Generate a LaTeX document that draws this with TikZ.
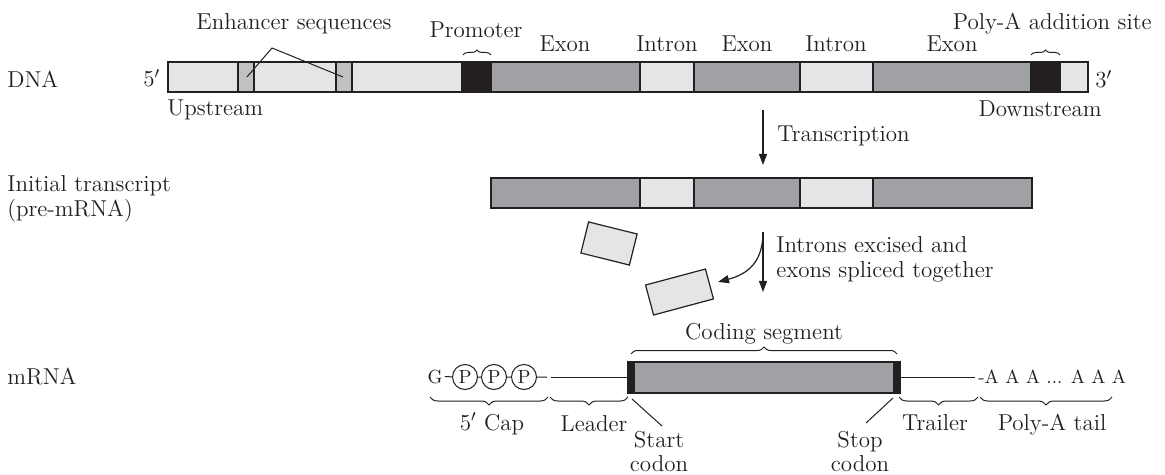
\documentclass[tikz,border=0pt]{standalone}
\usepackage{tikz}
\usepackage{xcolor}
\usetikzlibrary{decorations.pathreplacing, arrows.meta, calc, positioning}

\definecolor{intron}{HTML}{E4E5E7}
\definecolor{enhancer}{HTML}{C0C1C3}
\definecolor{exon}{HTML}{A0A1A4}
\definecolor{ink}{HTML}{231F20}

\tikzset{
    lbl/.style={inner sep=0pt, text=ink, font=\fontsize{11.5}{12.5}\selectfont},
    small/.style={inner sep=0pt, text=ink, font=\fontsize{9.5}{11}\selectfont},
    seg/.style={draw=ink, line width=0.7pt},
    thin/.style={draw=ink, line width=0.5pt},
    brc/.style={decorate, decoration={brace, amplitude=#1}, draw=ink, line width=0.5pt},
    arr/.style={draw=ink, line width=0.6pt, -{Triangle[length=5.5pt, width=4pt]}},
    pcirc/.style={circle, draw=ink, line width=0.5pt, inner sep=0pt, minimum size=12.5pt, small},
    cut/.style={rectangle, draw=ink, fill=intron, line width=0.6pt, inner sep=0pt}
}

\begin{document}
\begin{tikzpicture}[x=0.5pt, y=-0.5pt]
                        \useasboundingbox (0,0) rectangle (1165,475);

                        % DNA
                        \foreach \a/\b/\c in {168/238/intron, 238/254/enhancer, 254/336/intron, 336/352/enhancer,
                                352/462/intron, 462/491/ink, 491/640/exon, 640/694/intron, 694/800/exon,
                                800/873/intron, 873/1031/exon, 1031/1060/ink, 1060/1088/intron}
                            \filldraw[seg, fill=\c] (\a, 62) rectangle (\b, 92);

                        \node[lbl, anchor=base west] (dna) at (7, 88) {DNA};
                        \node[lbl, anchor=base west] (five) at (143, 87) {5$'$};
                        \node[lbl, anchor=base west] (three) at (1095, 88) {3$'$};
                        \node[lbl, anchor=base west] (up) at (167, 116) {Upstream};
                        \node[lbl, anchor=base east] (down) at (1102, 117) {Downstream};
                        \node[lbl, anchor=base] (enh) at (294, 30) {Enhancer sequences};
                        \node[lbl, anchor=base] (prom) at (476, 38) {Promoter};
                        \node[lbl, anchor=base east] (polya) at (1152, 30) {Poly-A addition site};
                        \node[lbl, anchor=base] (ex1) at (565, 52) {Exon};
                        \node[lbl, anchor=base] (in1) at (667, 52) {Intron};
                        \node[lbl, anchor=base] (ex2) at (747, 52) {Exon};
                        \node[lbl, anchor=base] (in2) at (836, 52) {Intron};
                        \node[lbl, anchor=base] (ex3) at (952, 52) {Exon};

                        \coordinate (enhtip) at (272, 48);
                        \coordinate (enh1) at (247, 77);
                        \coordinate (enh2) at (343, 77);
                        \draw[thin] (enh1) -- (enhtip) -- (enh2);

                        \draw[brc=2.5pt] (463, 55) -- (491, 55);
                        \draw[brc=2.5pt] (1031, 55) -- (1060, 55);

                        % transcription
                        \coordinate (tr1) at (763, 110);
                        \coordinate (tr2) at (763, 165);
                        \draw[arr] (tr1) -- (tr2);
                        \node[lbl, anchor=base west] (trans) at (777, 142) {Transcription};

                        % pre-mRNA
                        \foreach \a/\b/\c in {491/640/exon, 640/694/intron, 694/800/exon, 800/873/intron, 873/1032/exon}
                            \filldraw[seg, fill=\c] (\a, 178) rectangle (\b, 208);
                        \node[lbl, anchor=north west, align=left] (pre) at (7, 175) {Initial transcript\\(pre-mRNA)};

                        % splicing
                        \node[cut, minimum width=25pt, minimum height=16pt, rotate=-14] (cut1) at (609, 243.5) {};
                        \node[cut, minimum width=31pt, minimum height=15.5pt, rotate=15] (cut2) at (679.5, 292) {};
                        \coordinate (sp1) at (763, 232);
                        \coordinate (sp2) at (763, 292);
                        \coordinate (sp3) at (718, 282);
                        \draw[arr] (sp1) -- (sp2);
                        \draw[arr] (sp1) .. controls (763, 262) and (748, 274) .. (sp3);
                        \node[lbl, anchor=north west, align=left] (splice) at (776, 236) {Introns excised and\\exons spliced together};

                        % mRNA
                        \node[lbl, anchor=base west] (mrna) at (7, 384) {mRNA};
                        \filldraw[seg, fill=exon] (628, 362) rectangle (900, 393);
                        \fill[ink] (628, 362) rectangle (635, 393);
                        \fill[ink] (893, 362) rectangle (900, 393);
                        \node[small, anchor=base, inner sep=1pt] (g) at (435, 383) {G};
                        \node[pcirc] (p1) at (465, 377) {P};
                        \node[pcirc] (p2) at (494, 377) {P};
                        \node[pcirc] (p3) at (524, 377) {P};
                        \coordinate (cap) at (547, 377);
                        \coordinate (lead) at (551, 377);
                        \coordinate (start) at (628, 377);
                        \coordinate (stop) at (900, 377);
                        \coordinate (trail) at (975, 377);
                        \draw[thin] (g) -- (p1) -- (p2) -- (p3) -- (cap);
                        \draw[thin] (lead) -- (start);
                        \draw[thin] (stop) -- (trail);
                        \node[small, anchor=base west] (tail) at (978, 383) {-A A A ... A A A};

                        \draw[brc=3.5pt] (631, 354) -- (897, 354);
                        \node[lbl, anchor=base] (coding) at (764, 339) {Coding segment};

                        \draw[brc=4pt] (548, 397) -- (430, 397);
                        \draw[brc=4pt] (628, 397) -- (550, 397);
                        \draw[brc=4pt] (978, 397) -- (899, 397);
                        \draw[brc=4pt] (1112, 397) -- (980, 397);
                        \node[lbl, anchor=base] (caplbl) at (492, 430) {5$'$ Cap};
                        \node[lbl, anchor=base] (leadlbl) at (594, 431) {Leader};
                        \node[lbl, anchor=base] (traillbl) at (935, 430) {Trailer};
                        \node[lbl, anchor=base] (taillbl) at (1052, 430) {Poly-A tail};

                        \coordinate (startpt) at (632, 399);
                        \coordinate (startend) at (662, 426);
                        \coordinate (stoppt) at (893, 398);
                        \coordinate (stopend) at (866, 423);
                        \draw[thin] (startpt) -- (startend);
                        \draw[thin] (stoppt) -- (stopend);
                        \node[lbl, anchor=north, align=center, font=\fontsize{11.5}{12}\selectfont] (startlbl) at (659, 431) {Start\\codon};
                        \node[lbl, anchor=north, align=center, font=\fontsize{11.5}{12}\selectfont] (stoplbl) at (860, 431) {Stop\\codon};
                    \end{tikzpicture}
\end{document}
